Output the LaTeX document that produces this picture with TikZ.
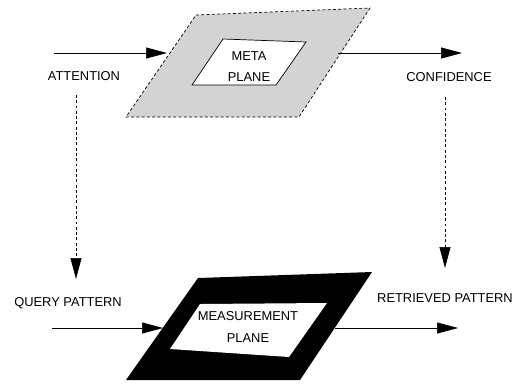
\documentclass[tikz,border=0pt]{standalone}
\usepackage{fontspec}
\setmainfont{Liberation Sans}
\usetikzlibrary{arrows.meta}
\definecolor{planegray}{RGB}{211,211,211}
\tikzset{
  flow/.style={-{Triangle[length=6.3mm,width=3.3mm]},line width=0.6pt},
  hint/.style={flow,dash pattern=on 2.5pt off 2pt},
  lbl/.style={font=\fontsize{11}{18}\selectfont,inner sep=0pt,align=center},
}
\begin{document}
\begin{tikzpicture}[x=0.03cm,y=-0.03cm]
  \useasboundingbox (0,0) rectangle (517,383);
  % meta plane (grey, dashed rim)
  \filldraw[fill=planegray,line width=0.6pt,dash pattern=on 2.5pt off 2pt]
    (196,15) -- (370,8) -- (299,117) -- (126,117) -- cycle;
  \filldraw[fill=white,line width=0.6pt] (223,39) -- (306,42) -- (276,85) -- (192,85) -- cycle;
  \node[lbl] (meta) at (249,67) {META\\PLANE};

  % measurement plane (black frame)
  \fill[black] (198,278) -- (372,272) -- (300,380) -- (126,380) -- cycle;
  \fill[white] (200,304) -- (327,303) -- (289,357) -- (170,349) -- cycle;
  \node[lbl] (measure) at (248,327) {MEASUREMENT\\PLANE};

  % labels
  \node[lbl] (attention) at (84,76) {ATTENTION};
  \node[lbl] (confidence) at (449,77) {CONFIDENCE};
  \node[lbl] (query) at (68,303) {QUERY PATTERN};
  \node[lbl] (retrieved) at (445,298) {RETRIEVED PATTERN};

  % ends of the arrows
  \coordinate (attIn) at (54,53);
  \coordinate (metaIn) at (167,53);
  \coordinate (metaOut) at (338,53);
  \coordinate (confOut) at (462,53);
  \coordinate (queryIn) at (52,328);
  \coordinate (measIn) at (163,328);
  \coordinate (measOut) at (335,328);
  \coordinate (retOut) at (458,328);
  \coordinate (attDown) at (76,95);
  \coordinate (queryTop) at (76,279);
  \coordinate (confDown) at (445,97);
  \coordinate (retTop) at (445,268);

  \draw[flow] (attIn) -- (metaIn);
  \draw[flow] (metaOut) -- (confOut);
  \draw[flow] (queryIn) -- (measIn);
  \draw[flow] (measOut) -- (retOut);
  \draw[hint] (attDown) -- (queryTop);
  \draw[hint] (confDown) -- (retTop);
\end{tikzpicture}
\end{document}
